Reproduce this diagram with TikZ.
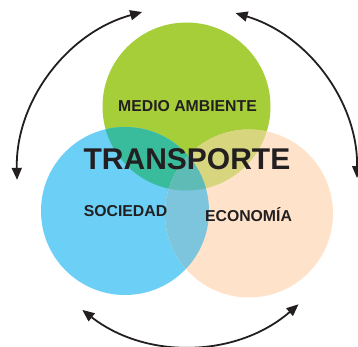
\documentclass[tikz,border=0pt]{standalone}
\usepackage{fontspec}
\setmainfont{Liberation Sans}
\usetikzlibrary{arrows.meta,calc}
\definecolor{cgreen}{HTML}{A6CE39}
\definecolor{cblue}{HTML}{6BCFF6}
\definecolor{cpeach}{HTML}{FEE3CA}
\definecolor{cgb}{HTML}{38BC9C}
\definecolor{cgp}{HTML}{D7D67E}
\definecolor{cbp}{HTML}{7CC5DD}
\definecolor{cgbp}{HTML}{5FBBB5}
\definecolor{ink}{HTML}{231F20}
\tikzset{
  lbl/.style={font=\bfseries\fontsize{15.8}{18}\selectfont, text=ink, inner sep=0pt},
  big/.style={font=\bfseries\fontsize{30}{34}\selectfont, text=ink, inner sep=0pt},
  cyc/.style={line width=1.8pt, draw=ink, {Triangle[length=12pt,width=10pt]}-{Triangle[length=12pt,width=10pt]}}
}
\begin{document}
\begin{tikzpicture}[x=1pt,y=-1pt]
\useasboundingbox (0,0) rectangle (358,347);
\def\R{84}
\coordinate (G) at (186.5,106.5);
\coordinate (B) at (125,211);
\coordinate (P) at (249,213.5);
% circles
\fill[cgreen] (G) circle (\R);
\fill[cblue] (B) circle (\R);
\fill[cpeach] (P) circle (\R);
% overlaps
\begin{scope}
  \clip (G) circle (\R);
  \fill[cgb] (B) circle (\R);
  \fill[cgp] (P) circle (\R);
\end{scope}
\begin{scope}
  \clip (B) circle (\R);
  \fill[cbp] (P) circle (\R);
  \clip (P) circle (\R);
  \fill[cgbp] (G) circle (\R);
\end{scope}
% labels
\node[lbl] (ma) at (187.5,106) {MEDIO AMBIENTE};
\node[big] (tr) at (187,159) {TRANSPORTE};
\node[lbl] (so) at (125.5,211.5) {SOCIEDAD};
\node[lbl] (ec) at (248.5,215) {ECONOMÍA};
% cycle arrows
\coordinate (O) at (187,176);
\def\RR{170}
\coordinate (a1) at ($(O)+(-105.3:\RR)$);
\coordinate (a2) at ($(O)+(-73.4:\RR)$);
\coordinate (a3) at ($(O)+(-232:\RR)$);
\draw[cyc] (a1) arc[start angle=-105.3, end angle=-181.3, radius=\RR];
\draw[cyc] (a2) arc[start angle=-73.4, end angle=0.7, radius=\RR];
\draw[cyc] (a3) arc[start angle=-232, end angle=-311, radius=\RR];
\end{tikzpicture}
\end{document}
